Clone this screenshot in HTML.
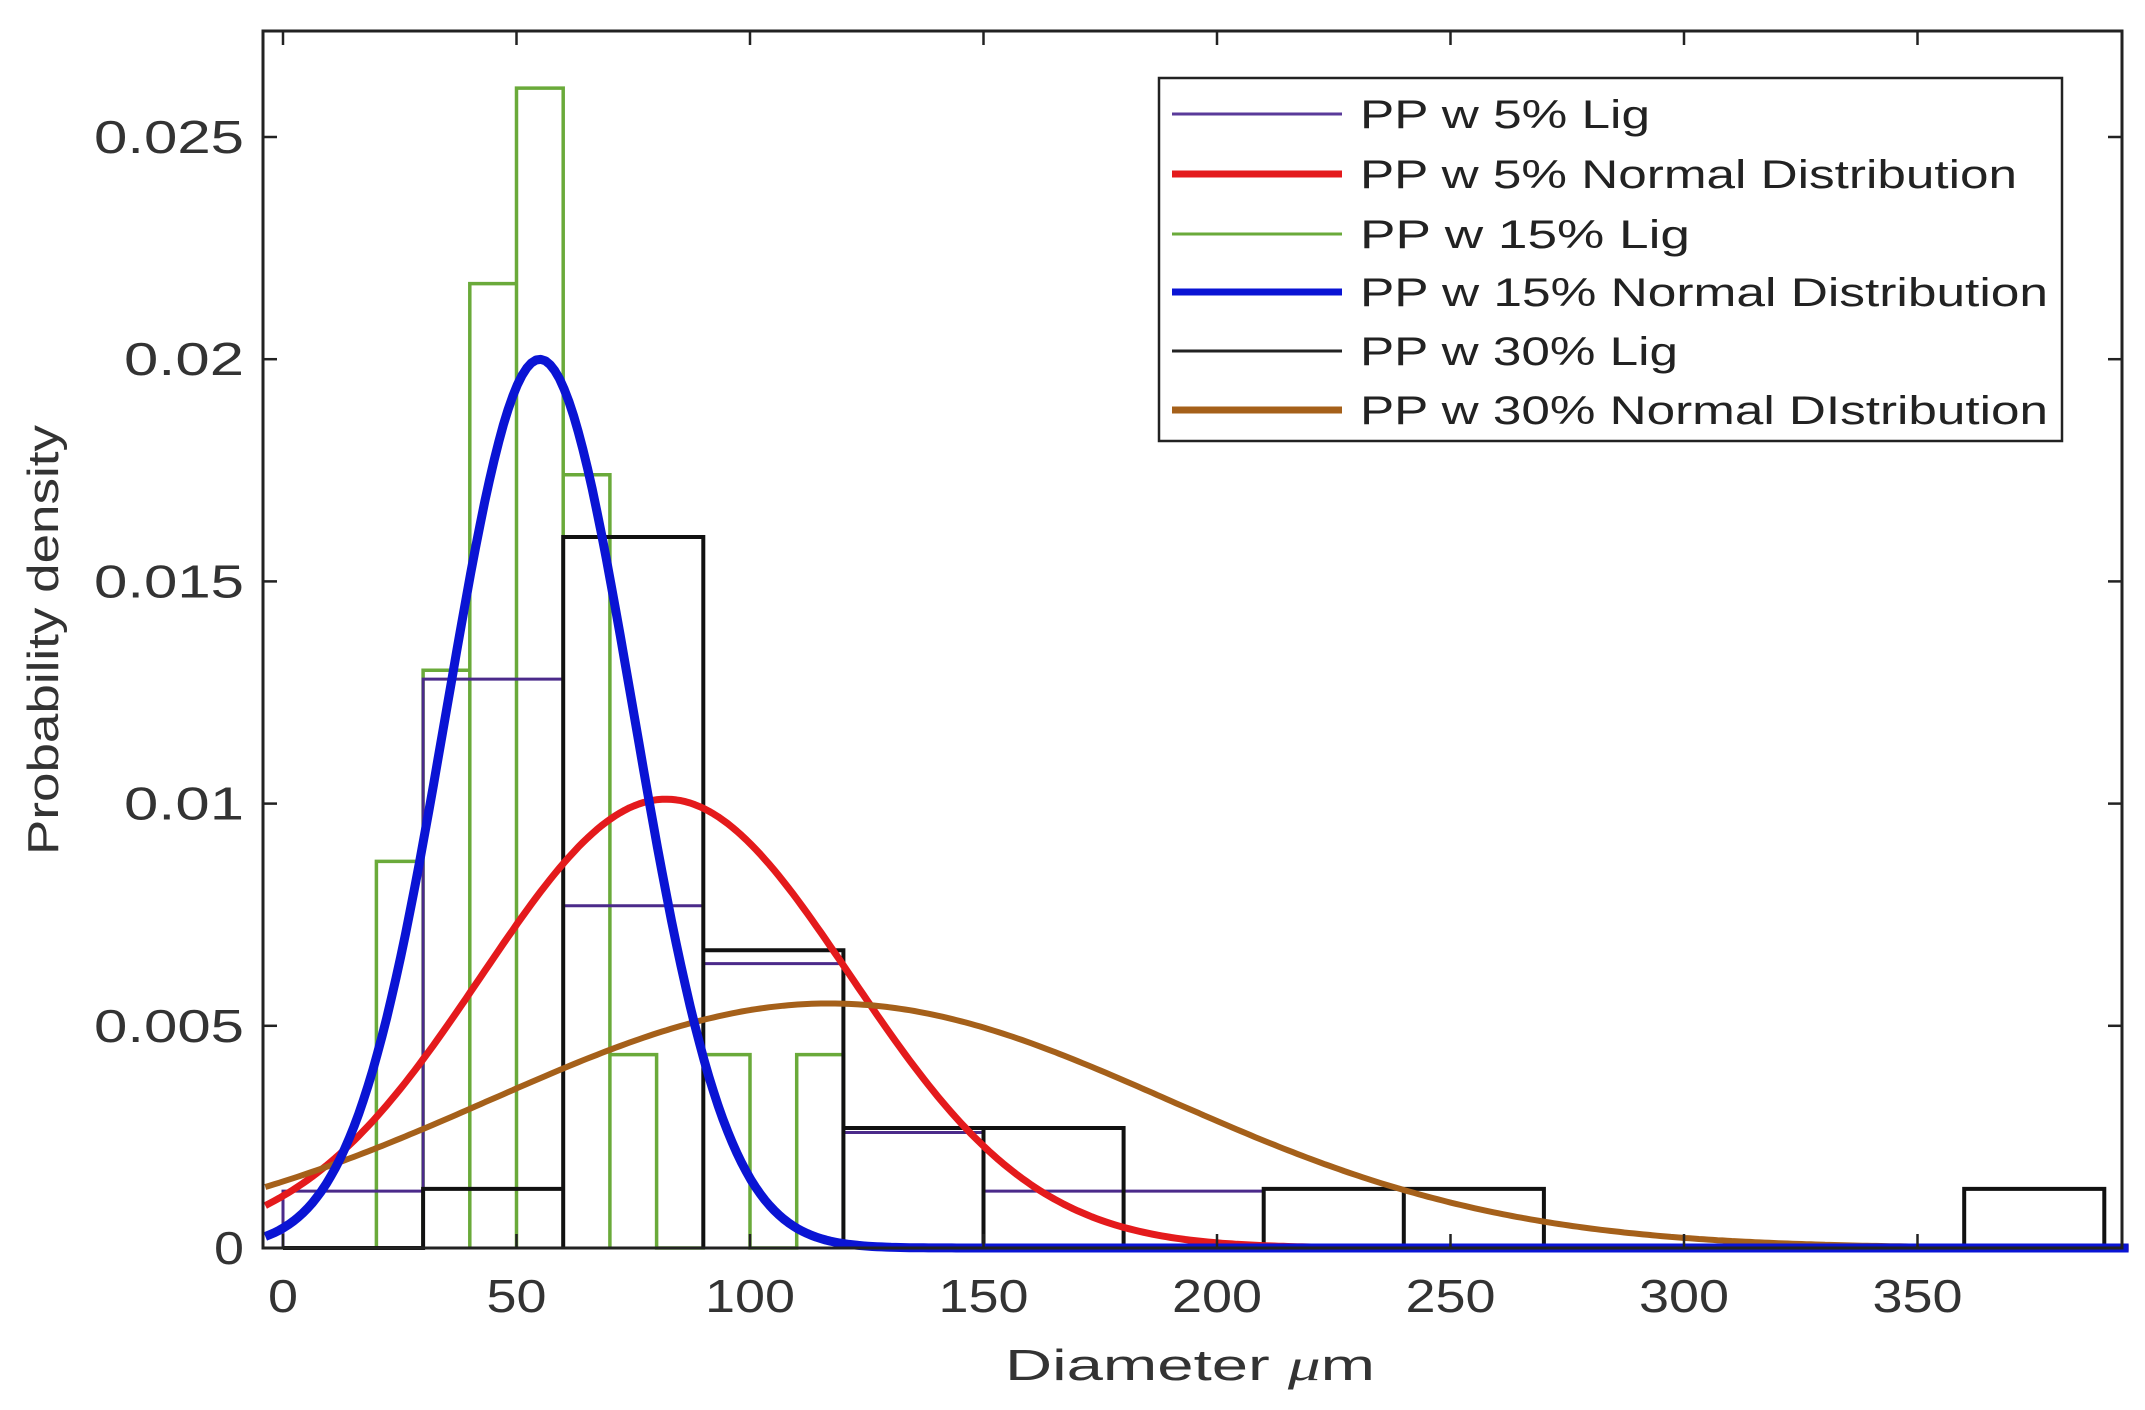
<!DOCTYPE html>
<html><head><meta charset="utf-8"><style>html,body{margin:0;padding:0;background:#fff}svg{display:block}</style></head>
<body>
<svg id="s" width="2145" height="1410" viewBox="0 0 2145 1410" xmlns="http://www.w3.org/2000/svg" font-family="Liberation Sans, sans-serif">
<rect width="2145" height="1410" fill="#fff"/>
<g id="hist" fill="none"></g>
<g id="curves" fill="none" stroke-linejoin="round"></g>
<rect x="263" y="31" width="1859" height="1217" fill="none" stroke="#222" stroke-width="3"/>
<g id="ticks" stroke="#222" stroke-width="2.5"></g>
<g font-size="46" fill="#333" id="labels"></g>
<text x="1190" y="1380" font-size="44" fill="#333" text-anchor="middle" textLength="370" lengthAdjust="spacingAndGlyphs">Diameter <tspan font-style="italic" font-family="Liberation Serif, serif">μ</tspan>m</text>
<text transform="translate(58,640) rotate(-90)" font-size="44" fill="#333" text-anchor="middle" textLength="430" lengthAdjust="spacingAndGlyphs">Probability density</text>
<rect x="1159" y="78" width="903" height="363" fill="#fff" stroke="#222" stroke-width="2.5"/>
<g font-size="40" fill="#222">
<line x1="1172" y1="114" x2="1342" y2="114" stroke="#5a3a9a" stroke-width="3"/>
<text x="1360" y="128" textLength="290" lengthAdjust="spacingAndGlyphs">PP w 5% Lig</text>
<line x1="1172" y1="174" x2="1342" y2="174" stroke="#e41a1c" stroke-width="7"/>
<text x="1360" y="188" textLength="657" lengthAdjust="spacingAndGlyphs">PP w 5% Normal Distribution</text>
<line x1="1172" y1="234" x2="1342" y2="234" stroke="#6aaa3a" stroke-width="3"/>
<text x="1360" y="248" textLength="330" lengthAdjust="spacingAndGlyphs">PP w 15%  Lig</text>
<line x1="1172" y1="292" x2="1342" y2="292" stroke="#0a14d4" stroke-width="7"/>
<text x="1360" y="306" textLength="688" lengthAdjust="spacingAndGlyphs">PP w 15% Normal Distribution</text>
<line x1="1172" y1="351" x2="1342" y2="351" stroke="#222" stroke-width="3"/>
<text x="1360" y="365" textLength="318" lengthAdjust="spacingAndGlyphs">PP w 30% Lig</text>
<line x1="1172" y1="410" x2="1342" y2="410" stroke="#a5601a" stroke-width="7"/>
<text x="1360" y="424" textLength="688" lengthAdjust="spacingAndGlyphs">PP w 30% Normal DIstribution</text>
</g>
</svg>
<script>
var X0=283,K=4.67,Y0=1248,KY=222.2/0.005;
function px(v){return X0+K*v}function py(v){return Y0-KY*v}
var NS="http://www.w3.org/2000/svg";
function el(p,t,a){var e=document.createElementNS(NS,t);for(var k in a)e.setAttribute(k,a[k]);p.appendChild(e);return e}
var H=document.getElementById('hist');
function hist(edges0,w,hs,col,sw){var d='M'+px(edges0)+','+py(0);for(var i=0;i<hs.length;i++){var a=edges0+i*w,b=a+w;d+='L'+px(a)+','+py(hs[i])+'L'+px(b)+','+py(hs[i])+'L'+px(b)+','+py(0)}el(H,'path',{d:d,stroke:col,'stroke-width':sw});}
hist(0,10,[0,0,0.0087,0.013,0.0217,0.0261,0.0174,0.00435,0,0.00435,0,0.00435],'#6aaa3a',3.5);
hist(0,30,[0.00128,0.0128,0.0077,0.0064,0.0026,0.00128,0.00128],'#4b2a8a',3);
hist(0,30,[0,0.00133,0.016,0.0067,0.0027,0.0027,0,0.00133,0.00133,0,0,0,0.00133],'#111',4);
var C=document.getElementById('curves');
function curve(m,s,col,sw,xe){var d='';var pk=1/(s*Math.sqrt(2*Math.PI));for(var x=-3.8;x<=xe;x+=1){var y=pk*Math.exp(-(x-m)*(x-m)/(2*s*s));d+=(d?'L':'M')+px(x).toFixed(1)+','+py(y).toFixed(1)}el(C,'path',{d:d,stroke:col,'stroke-width':sw});}
curve(82,39.5,'#e41a1c',7,396);
curve(117,72.5,'#a5601a',6,396);
curve(55,19.95,'#0a14d4',9,396);
var T=document.getElementById('ticks'),L=document.getElementById('labels');
for(var v=0;v<=350;v+=50){var x=px(v);el(T,'line',{x1:x,y1:1248,x2:x,y2:1234});el(T,'line',{x1:x,y1:31,x2:x,y2:45});var s=String(v);var t=el(L,'text',{x:x,y:1312,'text-anchor':'middle',textLength:s.length*30,lengthAdjust:'spacingAndGlyphs'});t.textContent=s;}
var yl=['0','0.005','0.01','0.015','0.02','0.025'];var yw=[30,150,120,150,120,150];
for(var i=0;i<6;i++){var y=py(i*0.005);el(T,'line',{x1:263,y1:y,x2:277,y2:y});el(T,'line',{x1:2122,y1:y,x2:2108,y2:y});var t=el(L,'text',{x:244-yw[i],y:y+16,textLength:yw[i],lengthAdjust:'spacingAndGlyphs'});t.textContent=yl[i];}
</script>
</body></html>
